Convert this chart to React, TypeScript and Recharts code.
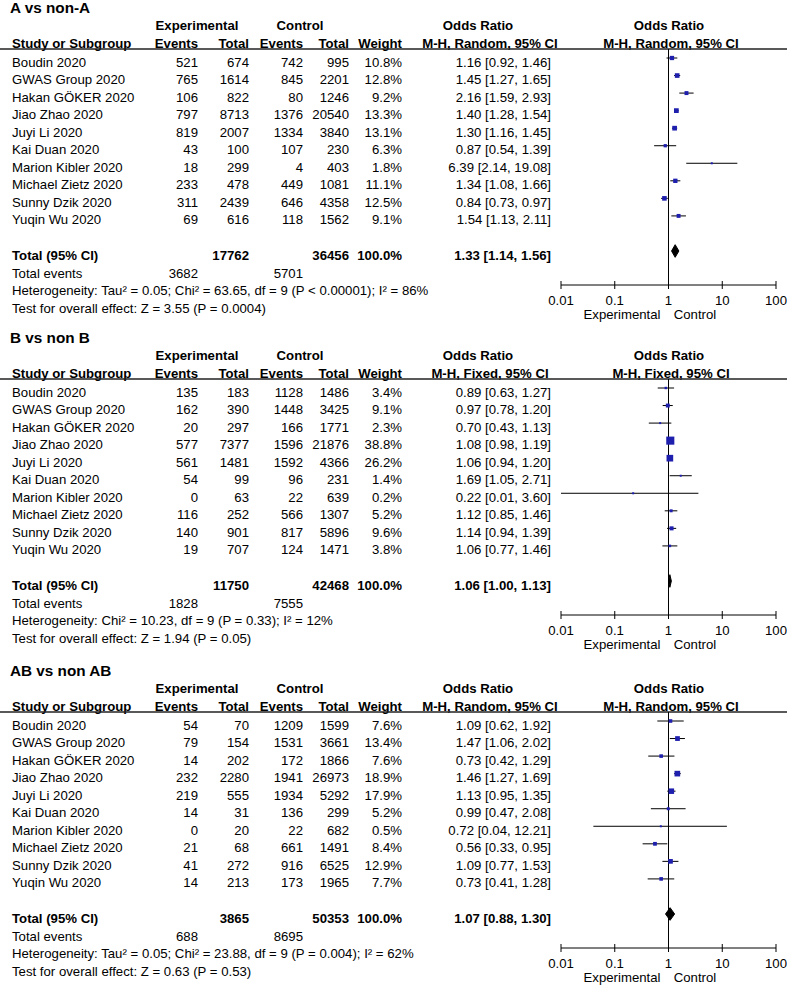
import React from 'react';
import { ComposedChart, Scatter, XAxis, YAxis, ErrorBar, ReferenceLine } from 'recharts';

const STUDIES = [
  'Boudin 2020', 'GWAS Group 2020', 'Hakan GÖKER 2020', 'Jiao Zhao 2020', 'Juyi Li 2020',
  'Kai Duan 2020', 'Marion Kibler 2020', 'Michael Zietz 2020', 'Sunny Dzik 2020', 'Yuqin Wu 2020',
];
const AXIS_TICKS = [0.01, 0.1, 1, 10, 100];

// A vs non-A
const A_EXP_EVENTS = [521, 765, 106, 797, 819, 43, 18, 233, 311, 69];
const A_EXP_TOTAL = [674, 1614, 822, 8713, 2007, 100, 299, 478, 2439, 616];
const A_CTL_EVENTS = [742, 845, 80, 1376, 1334, 107, 4, 449, 646, 118];
const A_CTL_TOTAL = [995, 2201, 1246, 20540, 3840, 230, 403, 1081, 4358, 1562];
const A_WEIGHT = [10.8, 12.8, 9.2, 13.3, 13.1, 6.3, 1.8, 11.1, 12.5, 9.1];
const A_OR = [1.16, 1.45, 2.16, 1.40, 1.30, 0.87, 6.39, 1.34, 0.84, 1.54];
const A_LOW = [0.92, 1.27, 1.59, 1.28, 1.16, 0.54, 2.14, 1.08, 0.73, 1.13];
const A_HIGH = [1.46, 1.65, 2.93, 1.54, 1.45, 1.39, 19.08, 1.66, 0.97, 2.11];
const A_TOTALS = [17762, 36456];
const A_TOTAL_EVENTS = [3682, 5701];
const A_POOLED = [1.33, 1.14, 1.56];

// B vs non B
const B_EXP_EVENTS = [135, 162, 20, 577, 561, 54, 0, 116, 140, 19];
const B_EXP_TOTAL = [183, 390, 297, 7377, 1481, 99, 63, 252, 901, 707];
const B_CTL_EVENTS = [1128, 1448, 166, 1596, 1592, 96, 22, 566, 817, 124];
const B_CTL_TOTAL = [1486, 3425, 1771, 21876, 4366, 231, 639, 1307, 5896, 1471];
const B_WEIGHT = [3.4, 9.1, 2.3, 38.8, 26.2, 1.4, 0.2, 5.2, 9.6, 3.8];
const B_OR = [0.89, 0.97, 0.70, 1.08, 1.06, 1.69, 0.22, 1.12, 1.14, 1.06];
const B_LOW = [0.63, 0.78, 0.43, 0.98, 0.94, 1.05, 0.01, 0.85, 0.94, 0.77];
const B_HIGH = [1.27, 1.20, 1.13, 1.19, 1.20, 2.71, 3.60, 1.46, 1.39, 1.46];
const B_TOTALS = [11750, 42468];
const B_TOTAL_EVENTS = [1828, 7555];
const B_POOLED = [1.06, 1.00, 1.13];

// AB vs non AB
const C_EXP_EVENTS = [54, 79, 14, 232, 219, 14, 0, 21, 41, 14];
const C_EXP_TOTAL = [70, 154, 202, 2280, 555, 31, 20, 68, 272, 213];
const C_CTL_EVENTS = [1209, 1531, 172, 1941, 1934, 136, 22, 661, 916, 173];
const C_CTL_TOTAL = [1599, 3661, 1866, 26973, 5292, 299, 682, 1491, 6525, 1965];
const C_WEIGHT = [7.6, 13.4, 7.6, 18.9, 17.9, 5.2, 0.5, 8.4, 12.9, 7.7];
const C_OR = [1.09, 1.47, 0.73, 1.46, 1.13, 0.99, 0.72, 0.56, 1.09, 0.73];
const C_LOW = [0.62, 1.06, 0.42, 1.27, 0.95, 0.47, 0.04, 0.33, 0.77, 0.41];
const C_HIGH = [1.92, 2.02, 1.29, 1.69, 1.35, 2.08, 12.21, 0.95, 1.53, 1.28];
const C_TOTALS = [3865, 50353];
const C_TOTAL_EVENTS = [688, 8695];
const C_POOLED = [1.07, 0.88, 1.30];

const PANELS = [
  {
    title: 'A vs non-A', method: 'M-H, Random, 95% CI',
    expEvents: A_EXP_EVENTS, expTotal: A_EXP_TOTAL, ctlEvents: A_CTL_EVENTS, ctlTotal: A_CTL_TOTAL,
    weight: A_WEIGHT, or: A_OR, low: A_LOW, high: A_HIGH,
    totals: A_TOTALS, totalEvents: A_TOTAL_EVENTS, pooled: A_POOLED,
    het: 'Heterogeneity: Tau² = 0.05; Chi² = 63.65, df = 9 (P < 0.00001); I² = 86%',
    test: 'Test for overall effect: Z = 3.55 (P = 0.0004)',
  },
  {
    title: 'B vs non B', method: 'M-H, Fixed, 95% CI',
    expEvents: B_EXP_EVENTS, expTotal: B_EXP_TOTAL, ctlEvents: B_CTL_EVENTS, ctlTotal: B_CTL_TOTAL,
    weight: B_WEIGHT, or: B_OR, low: B_LOW, high: B_HIGH,
    totals: B_TOTALS, totalEvents: B_TOTAL_EVENTS, pooled: B_POOLED,
    het: 'Heterogeneity: Chi² = 10.23, df = 9 (P = 0.33); I² = 12%',
    test: 'Test for overall effect: Z = 1.94 (P = 0.05)',
  },
  {
    title: 'AB vs non AB', method: 'M-H, Random, 95% CI',
    expEvents: C_EXP_EVENTS, expTotal: C_EXP_TOTAL, ctlEvents: C_CTL_EVENTS, ctlTotal: C_CTL_TOTAL,
    weight: C_WEIGHT, or: C_OR, low: C_LOW, high: C_HIGH,
    totals: C_TOTALS, totalEvents: C_TOTAL_EVENTS, pooled: C_POOLED,
    het: 'Heterogeneity: Tau² = 0.05; Chi² = 23.88, df = 9 (P = 0.004); I² = 62%',
    test: 'Test for overall effect: Z = 0.63 (P = 0.53)',
  },
];

const PANEL_TOPS = [0, 330, 663];
const W = 787;
const H = 330;
const TOTAL_ROW = 11;
const ROW_STEP = 17.545;
const BLUE = '#1f1fae';
const FONT = '"Liberation Sans", Arial, Helvetica, sans-serif';
const FS = 13.2;

// columns (right edges unless noted)
const COL = { name: 12, expEv: 198, expTot: 249, ctlEv: 303, ctlTot: 349, weight: 402, or: 551 };

const fmtCI = (o: number, l: number, h: number) => `${o.toFixed(2)} [${l.toFixed(2)}, ${h.toFixed(2)}]`;

const AxisTick = (props: any) => {
  const { x, y, payload } = props;
  return (
    <g>
      <line x1={x} x2={x} y1={y - 4} y2={y + 4} stroke="#000" />
      <text x={x} y={y + 19.5} textAnchor="middle" fontSize={FS} fill="#000">{String(payload.value)}</text>
    </g>
  );
};

const Txt = ({ x, y, anchor = 'start', bold = false, size = FS, children }: any) => (
  <text x={x} y={y} textAnchor={anchor} fontWeight={bold ? 'bold' : 'normal'} fontSize={size} fill="#000">{children}</text>
);

const ForestPanel = ({ p, top }: any) => {
  const rows = STUDIES.map((name, i) => ({
    name, row: i, or: p.or[i], weight: p.weight[i],
    ci: [p.or[i] - p.low[i], p.high[i] - p.or[i]],
  }));
  const [po, pl, ph] = p.pooled;
  const d = 0.36;
  const diamond = [
    { or: pl, row: TOTAL_ROW },
    { or: po, row: TOTAL_ROW - d },
    { or: ph, row: TOTAL_ROW },
    { or: po, row: TOTAL_ROW + d },
    { or: pl, row: TOTAL_ROW },
  ];
  const rowY = (i: number) => 66.5 + ROW_STEP * i;

  return (
    <div style={{ position: 'absolute', left: 0, top, width: W, height: H }}>
      <svg width={W} height={H} style={{ position: 'absolute', left: 0, top: 0 }}>
        <Txt x={10} y={12.5} bold size={15.3}>{p.title}</Txt>
        <Txt x={197} y={29.7} anchor="middle" bold>Experimental</Txt>
        <Txt x={300} y={29.7} anchor="middle" bold>Control</Txt>
        <Txt x={478} y={29.7} anchor="middle" bold>Odds Ratio</Txt>
        <Txt x={669} y={29.7} anchor="middle" bold>Odds Ratio</Txt>
        <Txt x={COL.name} y={47.7} bold>Study or Subgroup</Txt>
        <Txt x={COL.expEv} y={47.7} anchor="end" bold>Events</Txt>
        <Txt x={COL.expTot} y={47.7} anchor="end" bold>Total</Txt>
        <Txt x={COL.ctlEv} y={47.7} anchor="end" bold>Events</Txt>
        <Txt x={COL.ctlTot} y={47.7} anchor="end" bold>Total</Txt>
        <Txt x={COL.weight} y={47.7} anchor="end" bold>Weight</Txt>
        <Txt x={490} y={47.7} anchor="middle" bold>{p.method}</Txt>
        <Txt x={671} y={47.7} anchor="middle" bold>{p.method}</Txt>
        <line x1={0} x2={W} y1={49} y2={49} stroke="#222" strokeWidth={1.5} />
        {STUDIES.map((name, i) => (
          <g key={name}>
            <Txt x={COL.name} y={rowY(i)}>{name}</Txt>
            <Txt x={COL.expEv} y={rowY(i)} anchor="end">{p.expEvents[i]}</Txt>
            <Txt x={COL.expTot} y={rowY(i)} anchor="end">{p.expTotal[i]}</Txt>
            <Txt x={COL.ctlEv} y={rowY(i)} anchor="end">{p.ctlEvents[i]}</Txt>
            <Txt x={COL.ctlTot} y={rowY(i)} anchor="end">{p.ctlTotal[i]}</Txt>
            <Txt x={COL.weight} y={rowY(i)} anchor="end">{p.weight[i].toFixed(1)}%</Txt>
            <Txt x={COL.or} y={rowY(i)} anchor="end">{fmtCI(p.or[i], p.low[i], p.high[i])}</Txt>
          </g>
        ))}
        <Txt x={COL.name} y={260} bold>Total (95% CI)</Txt>
        <Txt x={COL.expTot} y={260} anchor="end" bold>{p.totals[0]}</Txt>
        <Txt x={COL.ctlTot} y={260} anchor="end" bold>{p.totals[1]}</Txt>
        <Txt x={COL.weight} y={260} anchor="end" bold>100.0%</Txt>
        <Txt x={COL.or} y={260} anchor="end" bold>{fmtCI(po, pl, ph)}</Txt>
        <Txt x={COL.name} y={277.5}>Total events</Txt>
        <Txt x={COL.expEv} y={277.5} anchor="end">{p.totalEvents[0]}</Txt>
        <Txt x={COL.ctlEv} y={277.5} anchor="end">{p.totalEvents[1]}</Txt>
        <Txt x={COL.name} y={295}>{p.het}</Txt>
        <Txt x={COL.name} y={312.5}>{p.test}</Txt>
        <Txt x={622} y={318.5} anchor="middle">Experimental</Txt>
        <Txt x={695} y={318.5} anchor="middle">Control</Txt>
      </svg>
      <div style={{ position: 'absolute', left: 0, top: 0 }}>
        <ComposedChart width={W} height={H} margin={{ top: 49, right: 11, bottom: 15, left: 561 }}>
          <XAxis
            type="number" dataKey="or" scale="log" domain={[0.01, 100]} ticks={AXIS_TICKS}
            allowDataOverflow interval={0} height={30} tickSize={0} tickMargin={0}
            tickLine={false} axisLine={{ stroke: '#000' }} tick={<AxisTick />}
          />
          <YAxis type="number" dataKey="row" domain={[-0.513, 12.938]} reversed hide allowDataOverflow />
          <ReferenceLine x={1} stroke="#000" ifOverflow="extendDomain" />
          <Scatter
            data={rows} isAnimationActive={false}
            shape={(s: any) => {
              const side = Math.max(2, 1.3 * Math.sqrt(s.payload.weight));
              return <rect x={s.cx - side / 2} y={s.cy - side / 2} width={side} height={side} fill={BLUE} />;
            }}
          >
            <ErrorBar dataKey="ci" direction="x" width={0} stroke="#000" strokeWidth={1} isAnimationActive={false} />
          </Scatter>
          <Scatter
            data={diamond} isAnimationActive={false} lineType="joint"
            line={{ stroke: '#000', fill: '#000', strokeWidth: 1 }}
            shape={() => <g />}
          />
        </ComposedChart>
      </div>
    </div>
  );
};

export default function App() {
  return (
    <div style={{ position: 'absolute', left: 0, top: 0, width: W, height: 989, background: '#fff', fontFamily: FONT }}>
      {PANELS.map((p, i) => (
        <ForestPanel key={p.title} p={p} top={PANEL_TOPS[i]} />
      ))}
    </div>
  );
}
